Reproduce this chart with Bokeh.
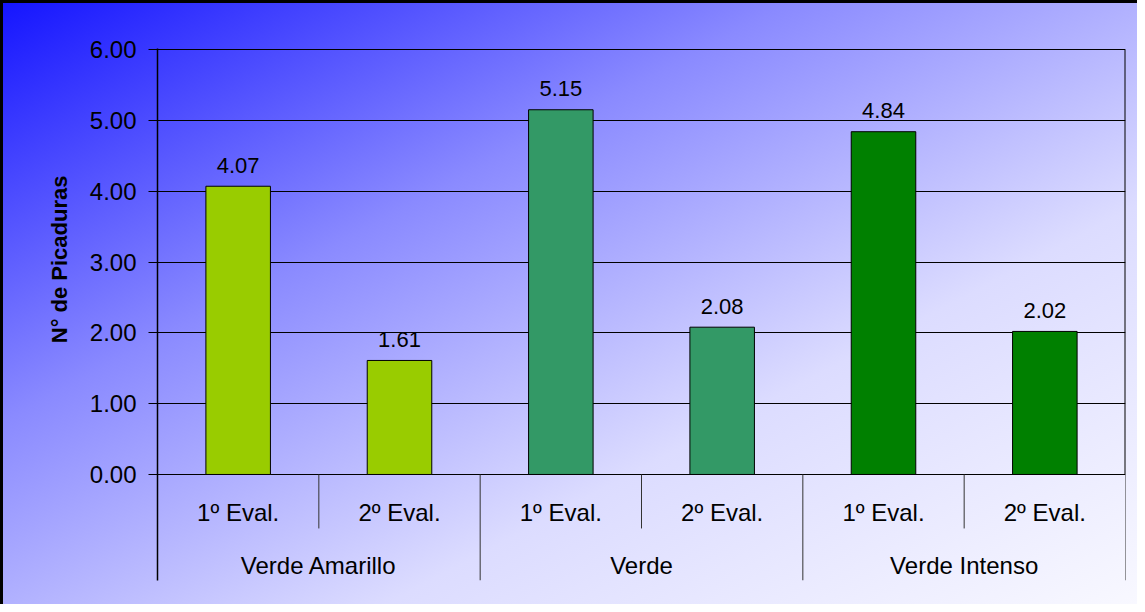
from bokeh.plotting import figure
from bokeh.models import (FactorRange, Range1d, ColumnDataSource, FixedTicker,
                          PrintfTickFormatter, Title)
from bokeh.core.properties import value
from bokeh.embed import file_html
from bokeh.resources import INLINE

# ---------------- data ----------------
groups = ["Verde Amarillo", "Verde", "Verde Intenso"]
evals = ["1º Eval.", "2º Eval."]
values = [4.07, 1.61, 5.15, 2.08, 4.84, 2.02]
group_colors = ["#99CC00", "#339966", "#008000"]
y_ticks = [0, 1, 2, 3, 4, 5, 6]
y_title = "N° de Picaduras"

FONT = "Liberation Sans"
FS_AXIS = "24px"
FS_DATA = "22px"

factors = [(g, e) for g in groups for e in evals]
bar_colors = [group_colors[groups.index(g)] for g, _ in factors]

W, H = 1137, 604
y_low = -1.497  # extra room under the value axis for the two-level category labels

p = figure(width=W, height=H,
           x_range=FactorRange(*factors, group_padding=0, factor_padding=0,
                               subgroup_padding=0, range_padding=0),
           y_range=Range1d(y_low, y_ticks[-1] + 0.015),
           output_backend="svg", toolbar_location=None, x_axis_location=None,
           min_border_left=157, min_border_right=12, min_border_top=48,
           min_border_bottom=24)
p.background_fill_alpha = 0
p.border_fill_alpha = 0
p.outline_line_color = None
p.styles = {
    "background-image": "linear-gradient(to bottom right, #1414ff 0%, #8a8aff 35%, #dcdcff 67%, #f8f8ff 100%)",
    "box-shadow": "inset 3px 3px 0 0 #000000",
}

# y axis
ticker = FixedTicker(ticks=y_ticks)
p.yaxis.ticker = ticker
p.yaxis.formatter = PrintfTickFormatter(format="%.2f")
p.yaxis.major_tick_in = 0
p.yaxis.major_tick_out = 9
p.yaxis.minor_tick_in = 0
p.yaxis.minor_tick_out = 0
p.yaxis.major_label_standoff = 12
p.yaxis.major_label_text_font = FONT
p.yaxis.major_label_text_font_size = FS_AXIS
p.yaxis.major_label_text_color = "black"
p.yaxis.axis_line_color = "black"
p.yaxis.axis_line_width = 1.5
p.yaxis.major_tick_line_color = "black"
p.ygrid.ticker = ticker
p.ygrid.grid_line_color = "black"
p.ygrid.grid_line_alpha = 1
p.ygrid.grid_line_width = 1
p.xgrid.visible = False

# y axis title (placed left of the axis, centred on the 0-6 value span)
p.add_layout(Title(text=y_title, align="right", offset=127, standoff=30,
                   text_font=FONT, text_font_size="22px", text_font_style="bold",
                   text_color="black"), "left")

# bars
src = ColumnDataSource(dict(x=factors, top=values, color=bar_colors,
                            lab=[f"{v:.2f}" for v in values]))
p.vbar(x="x", top="top", width=0.4, source=src, fill_color="color",
       line_color="black", line_width=1)
p.text(x="x", y="top", text="lab", source=src, text_align="center",
       text_baseline="alphabetic", y_offset=-21,
       text_font=value(FONT), text_font_size=value(FS_DATA), text_color="black")

# category axis: dividers
sub_div_x = [(g, evals[1], -0.5) for g in groups]
grp_div_x = [(g, evals[0], -0.5) for g in groups[1:]] + [(groups[-1], evals[-1], 0.5)]
sub_len = -0.762
p.segment(x0=sub_div_x, x1=sub_div_x, y0=[0] * len(sub_div_x),
          y1=[sub_len] * len(sub_div_x), line_color="#333333", line_width=1)
p.segment(x0=grp_div_x, x1=grp_div_x, y0=[0] * len(grp_div_x),
          y1=[y_low] * len(grp_div_x), line_color="#333333", line_width=1)
# right border of plot area (frame edge)
p.segment(x0=[grp_div_x[-1]], x1=[grp_div_x[-1]], y0=[y_ticks[0]], y1=[y_ticks[-1]],
          line_color="black", line_width=2)

# category labels
p.text(x=factors, y=[-0.536] * len(factors), text=[e for _, e in factors],
       text_align="center", text_baseline="middle",
       text_font=value(FONT), text_font_size=value(FS_AXIS), text_color="black")
grp_x = [(g, evals[0], 0.5) for g in groups]
p.text(x=grp_x, y=[-1.285] * len(groups), text=groups,
       text_align="center", text_baseline="middle",
       text_font=value(FONT), text_font_size=value(FS_AXIS), text_color="black")

open("out.html", "w").write(file_html(p, INLINE))
